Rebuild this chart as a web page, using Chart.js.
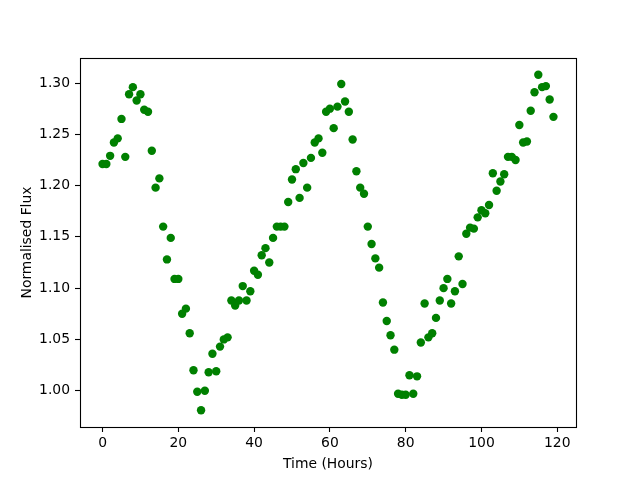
<!DOCTYPE html>
<html>
<head>
<meta charset="utf-8">
<script src="https://cdn.jsdelivr.net/npm/chart.js@4/dist/chart.umd.min.js"></script>
<style>
html,body{margin:0;padding:0;background:#fff;}
#wrap{width:640px;height:480px;}
</style>
</head>
<body>
<div id="wrap"><canvas id="c" width="640" height="480"></canvas></div>
<script>
const hours = [0,1,2,3,4,5,6,7,8,9,10,11,12,13,14,15,16,17,18,19,20,21,22,23,24,25,26,27,28,29,30,31,32,33,34,35,36,37,38,39,40,41,42,43,44,45,46,47,48,49,50,51,52,53,54,55,56,57,58,59,60,61,62,63,64,65,66,67,68,69,70,71,72,73,74,75,76,77,78,79,80,81,82,83,84,85,86,87,88,89,90,91,92,93,94,95,96,97,98,99,100,101,102,103,104,105,106,107,108,109,110,111,112,113,114,115,116,117,118,119];
const flux = [1.221,1.221,1.229,1.242,1.246,1.265,1.228,1.289,1.296,1.283,
  1.289,1.274,1.272,1.234,1.198,1.207,1.160,1.128,1.149,1.109,
  1.109,1.075,1.080,1.056,1.020,0.999,0.981,1.000,1.018,1.036,
  1.019,1.043,1.050,1.052,1.088,1.083,1.088,1.102,1.088,1.097,
  1.117,1.113,1.132,1.139,1.125,1.149,1.160,1.160,1.160,1.184,
  1.206,1.216,1.188,1.222,1.198,1.227,1.242,1.246,1.232,1.272,
  1.275,1.256,1.277,1.299,1.282,1.272,1.245,1.214,1.198,1.192,
  1.160,1.143,1.129,1.120,1.086,1.068,1.054,1.040,0.997,0.996,
  0.996,1.015,0.997,1.014,1.047,1.085,1.052,1.056,1.071,1.088,
  1.100,1.109,1.085,1.097,1.131,1.104,1.153,1.159,1.158,1.169,
  1.176,1.173,1.181,1.212,1.195,1.204,1.211,1.228,1.228,1.225,
  1.259,1.242,1.243,1.273,1.291,1.308,1.296,1.297,1.284,1.267];
const xTicks = [0,20,40,60,80,100,120];
const yTicks = [1.00,1.05,1.10,1.15,1.20,1.25,1.30];

const points = hours.map((h,i)=>({x:h,y:flux[i]}));
const FONT = {family:'"DejaVu Sans", sans-serif', size:13.9};

const framePlugin = {
  id:'frame',
  afterDraw(chart){
    const a = chart.chartArea, ctx = chart.ctx;
    ctx.save();
    ctx.strokeStyle = '#000';
    ctx.lineWidth = 1.1;
    ctx.strokeRect(Math.round(a.left)+0.5, Math.round(a.top)+0.5, Math.round(a.right-a.left), Math.round(a.bottom-a.top));
    ctx.restore();
  }
};

new Chart(document.getElementById('c'), {
  type:'scatter',
  data:{datasets:[{data:points, backgroundColor:'#008000', borderColor:'#008000', borderWidth:0, pointRadius:4.2, pointHoverRadius:4.2}]},
  options:{
    responsive:false, animation:false, devicePixelRatio:1,
    layout:{padding:{top:58,right:64,left:0,bottom:0}},
    plugins:{legend:{display:false}, tooltip:{enabled:false}},
    scales:{
      x:{type:'linear', min:-5.95, max:124.95,
        afterBuildTicks(s){ s.ticks = xTicks.map(v=>({value:v})); },
        afterFit(s){ s.height = 53; },
        grid:{display:true, drawOnChartArea:false, drawTicks:true, tickLength:5, tickColor:'#000', tickWidth:1.1},
        border:{display:false},
        ticks:{color:'#000', font:FONT, padding:3, maxRotation:0, autoSkip:false, callback:v=>String(v)},
        title:{display:true, text:'Time (Hours)', color:'#000', font:FONT, padding:{top:0,bottom:7}}
      },
      y:{type:'linear', min:0.9646, max:1.3244,
        afterBuildTicks(s){ s.ticks = yTicks.map(v=>({value:v})); },
        afterFit(s){ s.width = 80; },
        grid:{display:true, drawOnChartArea:false, drawTicks:true, tickLength:5, tickColor:'#000', tickWidth:1.1},
        border:{display:false},
        ticks:{color:'#000', font:FONT, padding:5, autoSkip:false, callback:v=>Number(v).toFixed(2)},
        title:{display:true, text:'Normalised Flux', color:'#000', font:FONT, padding:{top:19,bottom:0}}
      }
    }
  },
  plugins:[framePlugin]
});
</script>
</body>
</html>
